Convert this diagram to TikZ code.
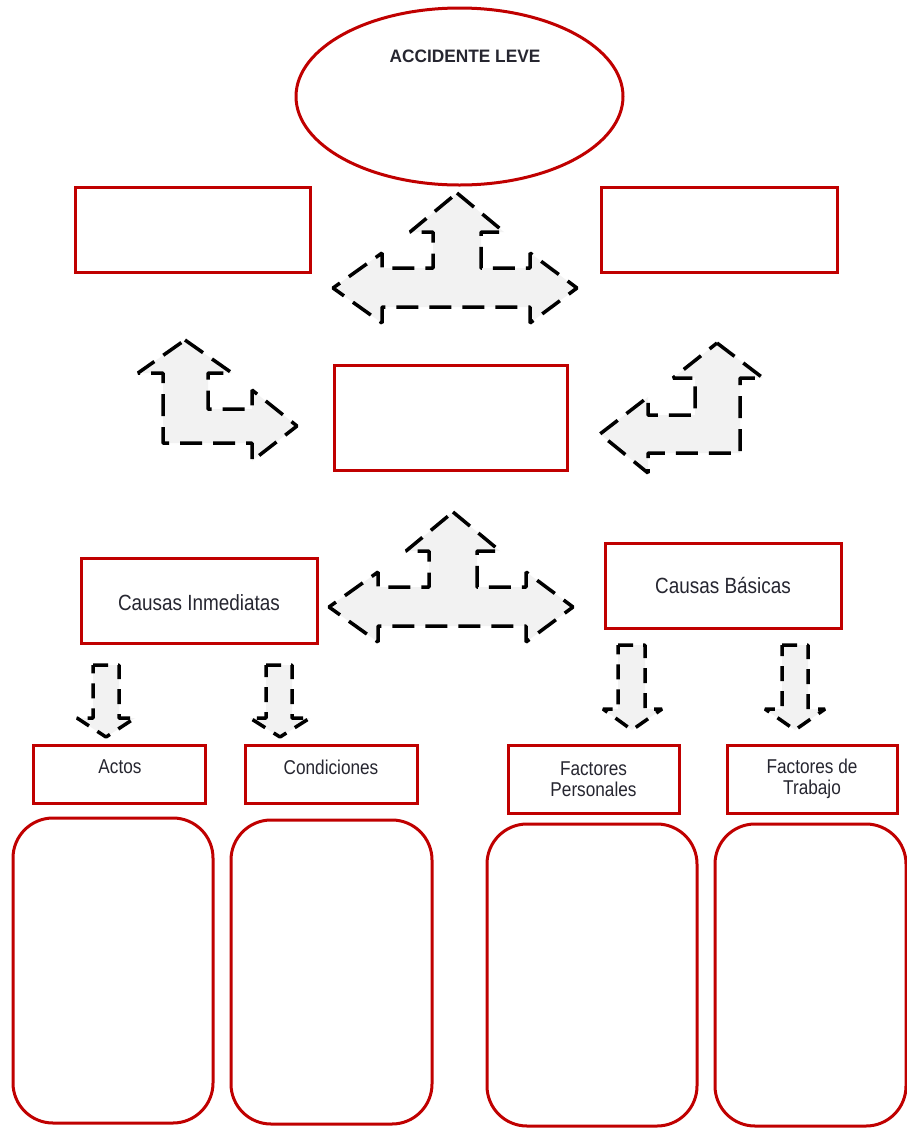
\documentclass[tikz,border=0pt]{standalone}
\usepackage{fontspec}
\setmainfont{Liberation Sans}
\newfontfamily\narrowf[FakeStretch=0.86]{Liberation Sans}
\newfontfamily\boldf[FakeStretch=0.96]{Liberation Sans Bold}
\usetikzlibrary{shapes.geometric}
\definecolor{redline}{HTML}{C00000}
\definecolor{arrowfill}{HTML}{F2F2F2}
\definecolor{txt}{HTML}{262630}
\tikzset{
  box/.style={draw=redline, line width=3pt, inner sep=0pt, rectangle},
  rbox/.style={box, rounded corners=40pt},
  oval/.style={draw=redline, line width=3pt, inner sep=0pt, ellipse},
  dasharrow/.style={draw=black, fill=arrowfill, line width=3.5pt, line join=bevel, dash pattern=on 22pt off 11pt},
  smallarrow/.style={draw=black, fill=arrowfill, line width=3.5pt, line join=bevel, dash pattern=on 15pt off 10pt},
  lbl/.style={text=txt, inner sep=0pt, align=center},
  threeway/.pic={
    \path[dasharrow] (0,-95) -- (47,-56) -- (24,-56) -- (24,-20) -- (73,-20) -- (73,-35)
      -- (120,0) -- (73,35) -- (73,19) -- (-75,19) -- (-75,35) -- (-124,0) -- (-75,-35)
      -- (-75,-20) -- (-24,-20) -- (-24,-56) -- (-47,-56) -- cycle;
  }
}
\begin{document}
\begin{tikzpicture}[x=1pt,y=-1pt]
\useasboundingbox (0,0) rectangle (907,1128);
\fill[white] (0,0) rectangle (907,1128);

% ellipse
\node[oval, minimum width=327pt, minimum height=177pt] (acc) at (459.5,96.5) {};
\node[lbl, font=\boldf\fontsize{18}{21}\selectfont] (acclbl) at (465,56) {ACCIDENTE LEVE};

% upper boxes
\node[box, minimum width=235pt, minimum height=85pt] (tl) at (192.5,229.5) {};
\node[box, minimum width=236pt, minimum height=85pt] (tr) at (719,229.5) {};
\node[box, minimum width=233pt, minimum height=105pt] (mid) at (450.5,417.5) {};

% causes
\node[box, minimum width=236pt, minimum height=85pt] (ci) at (199,600.5) {};
\node[lbl, font=\narrowf\fontsize{22}{26}\selectfont] (cilbl) at (199,603) {Causas Inmediatas};
\node[box, minimum width=236pt, minimum height=85pt] (cb) at (723,585.5) {};
\node[lbl, font=\narrowf\fontsize{22}{26}\selectfont] (cblbl) at (723,585) {Causas Básicas};

% small boxes
\node[box, minimum width=172pt, minimum height=58pt] (actos) at (119,774) {};
\node[lbl, font=\narrowf\fontsize{20}{21}\selectfont] (actoslbl) at (120,767) {Actos};
\node[box, minimum width=172pt, minimum height=58pt] (cond) at (331,774) {};
\node[lbl, font=\narrowf\fontsize{20}{21}\selectfont] (condlbl) at (331,767) {Condiciones};
\node[box, minimum width=171pt, minimum height=68pt] (fp) at (593.5,779) {};
\node[lbl, font=\narrowf\fontsize{20}{21}\selectfont] (fplbl) at (593.5,779) {Factores\\Personales};
\node[box, minimum width=170pt, minimum height=68pt] (ft) at (812,779) {};
\node[lbl, font=\narrowf\fontsize{20}{21}\selectfont] (ftlbl) at (812,779) {Factores de\\Trabajo};

% rounded boxes
\node[rbox, minimum width=200pt, minimum height=305pt] (r1) at (113,970.5) {};
\node[rbox, minimum width=201pt, minimum height=304pt] (r2) at (331.5,972) {};
\node[rbox, minimum width=210pt, minimum height=302pt] (r3) at (592,975) {};
\node[rbox, minimum width=191pt, minimum height=302pt] (r4) at (810.5,975) {};

% three-way arrows
\pic at (457,288) {threeway};
\pic at (453,607) {threeway};

% bent arrow up-right (left)
\path[dasharrow] (185,340) -- (232,373) -- (208,373) -- (208,409) -- (252,409) -- (252,390)
  -- (297,426) -- (252,461) -- (252,443) -- (163,443) -- (163,373) -- (138,373) -- cycle;

% bent arrow up-left (right)
\path[dasharrow] (717,343) -- (763,378) -- (740,378) -- (740,453) -- (648,453) -- (648,473)
  -- (600,434) -- (648,397) -- (648,415) -- (695,415) -- (695,378) -- (673,378) -- cycle;

% small down arrows
\path[smallarrow] (93,665) -- (119,665) -- (119,718) -- (135,718) -- (106,737) -- (77,718) -- (93,718) -- cycle;
\path[smallarrow] (266,665) -- (292,665) -- (292,718) -- (310,718) -- (280,737) -- (250,718) -- (266,718) -- cycle;
\path[smallarrow] (618,645) -- (645,645) -- (645,709) -- (662,709) -- (632,730) -- (603,709) -- (618,709) -- cycle;
\path[smallarrow] (782,645) -- (808,645) -- (808,709) -- (825,709) -- (795,730) -- (765,709) -- (782,709) -- cycle;
\end{tikzpicture}
\end{document}
